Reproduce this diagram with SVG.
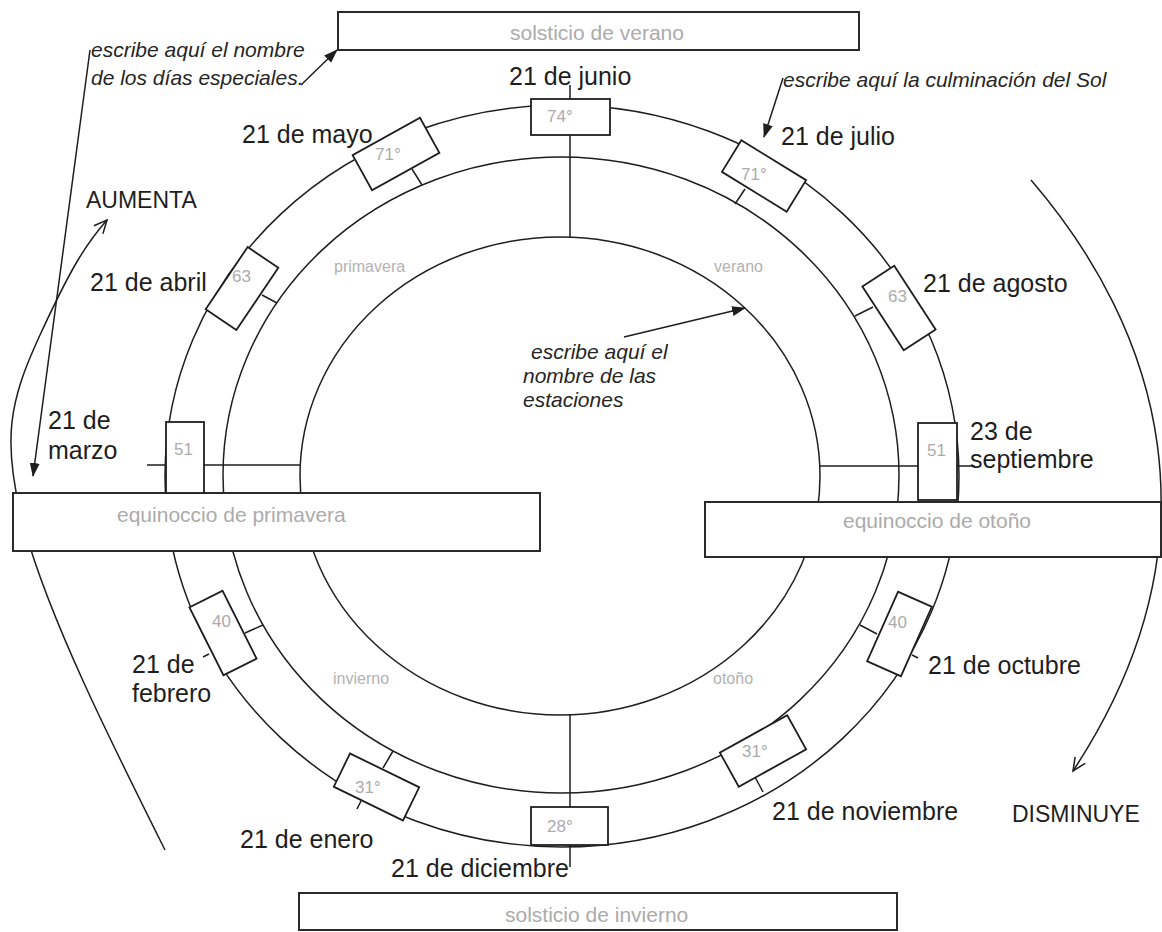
<svg xmlns="http://www.w3.org/2000/svg" width="1162" height="932" viewBox="0 0 1162 932">
<style>
text{font-family:"Liberation Sans",Arial,sans-serif}
.lbl{font-size:25px;fill:#1e1e1e}
.cap{font-size:23px;fill:#1e1e1e}
.note{font-size:21px;font-style:italic;fill:#262626}
.gray{font-size:21px;fill:#ababab}
.season{font-size:16px;fill:#b2b2b2}
.deg{font-size:17px;fill:#ababab}
.ring{fill:none;stroke:#1e1e1e;stroke-width:1.5}
.ln{fill:none;stroke:#1e1e1e;stroke-width:1.5}
.box{fill:#fff;stroke:#1e1e1e;stroke-width:1.8}
.band{fill:#fff;stroke:#2a2a2a;stroke-width:2}
</style>
<defs>
<marker id="fa" markerWidth="14" markerHeight="10" refX="13" refY="5" orient="auto" markerUnits="userSpaceOnUse"><path d="M0,0 L14,5 L0,10 z" fill="#1e1e1e"/></marker>
<marker id="oa" markerWidth="16" markerHeight="14" refX="14" refY="7" orient="auto" markerUnits="userSpaceOnUse"><path d="M1,1 L14,7 L1,13" fill="none" stroke="#1e1e1e" stroke-width="1.5"/></marker>
</defs>
<rect width="1162" height="932" fill="#fff"/>

<g id="rings">
<ellipse class="ring" cx="562" cy="476" rx="397" ry="371"/>
<ellipse class="ring" cx="561" cy="475" rx="338" ry="318"/>
<ellipse class="ring" cx="560" cy="476" rx="260" ry="239"/>
</g>

<g id="connectors">
<line class="ln" x1="570" y1="85" x2="570" y2="237"/>
<line class="ln" x1="570" y1="714" x2="570" y2="867"/>
<line class="ln" x1="147" y1="465" x2="300" y2="465"/>
<line class="ln" x1="820" y1="466" x2="975" y2="466"/>
<line class="ln" x1="412" y1="169" x2="422" y2="185"/>
<line class="ln" x1="745" y1="189" x2="735" y2="204"/>
<line class="ln" x1="262" y1="295" x2="277" y2="303"/>
<line class="ln" x1="855" y1="316" x2="873" y2="307"/>
<line class="ln" x1="245" y1="633" x2="263" y2="625"/>
<line class="ln" x1="203" y1="657" x2="209" y2="654"/>
<line class="ln" x1="860" y1="625" x2="877" y2="634"/>
<line class="ln" x1="912" y1="655" x2="918" y2="658"/>
<line class="ln" x1="383" y1="768" x2="393" y2="751"/>
<line class="ln" x1="361" y1="801" x2="357" y2="809"/>
<line class="ln" x1="755" y1="777" x2="763" y2="792"/>
<line class="ln" x1="301" y1="85" x2="337" y2="50" marker-end="url(#fa)"/>
<line class="ln" x1="90" y1="50" x2="33" y2="476" marker-end="url(#fa)"/>
<line class="ln" x1="783" y1="78" x2="764" y2="137" marker-end="url(#fa)"/>
<line class="ln" x1="624" y1="337" x2="745" y2="308" marker-end="url(#fa)"/>
<path class="ln" d="M165,850 C110,740 50,620 25,530 S10,400 40,335 S85,245 107,220" marker-end="url(#oa)"/>
<path class="ln" d="M1031,180 C1160,330 1225,540 1073,771" marker-end="url(#oa)"/>
</g>

<g id="n-solsticio-verano"><rect class="band" x="338" y="12" width="521" height="38"/><text class="gray" x="510" y="40">solsticio de verano</text></g>
<g id="n-equinoccio-primavera"><rect class="band" x="13" y="493" width="527" height="58"/><text class="gray" x="117" y="522">equinoccio de primavera</text></g>
<g id="n-equinoccio-otono"><rect class="band" x="705" y="502" width="456" height="55"/><text class="gray" x="843" y="528">equinoccio de otoño</text></g>
<g id="n-solsticio-invierno"><rect class="band" x="299" y="893" width="598" height="37"/><text class="gray" x="505" y="922">solsticio de invierno</text></g>

<g id="n-junio"><rect class="box" x="531" y="99" width="79" height="36"/><text class="deg" x="547" y="122">74°</text><text class="lbl" x="509" y="85">21 de junio</text></g>
<g id="n-mayo"><rect class="box" x="-38.5" y="-20" width="77" height="40" transform="translate(396,154) rotate(-29)"/><text class="deg" x="375" y="160">71°</text><text class="lbl" x="242" y="143">21 de mayo</text></g>
<g id="n-julio"><rect class="box" x="-38" y="-18.5" width="76" height="37" transform="translate(764,176) rotate(31.6)"/><text class="deg" x="741" y="180">71°</text><text class="lbl" x="781" y="145">21 de julio</text></g>
<g id="n-abril"><rect class="box" x="-18.5" y="-37.5" width="37" height="75" transform="translate(242,288.5) rotate(34)"/><text class="deg" x="232" y="282">63</text><text class="lbl" x="90" y="291">21 de abril</text></g>
<g id="n-agosto"><rect class="box" x="-19" y="-38" width="38" height="76" transform="translate(899,308) rotate(-33)"/><text class="deg" x="888" y="302">63</text><text class="lbl" x="923" y="292">21 de agosto</text></g>
<g id="n-marzo"><rect class="box" x="166" y="422" width="38" height="71"/><text class="deg" x="174" y="455">51</text><text class="lbl" x="48" y="429">21 de</text><text class="lbl" x="48" y="459">marzo</text></g>
<g id="n-septiembre"><rect class="box" x="918" y="423" width="39" height="77"/><text class="deg" x="927" y="456">51</text><text class="lbl" x="970" y="440">23 de</text><text class="lbl" x="970" y="468">septiembre</text></g>
<g id="n-febrero"><rect class="box" x="-18.5" y="-38" width="37" height="76" transform="translate(223,633) rotate(-26.6)"/><text class="deg" x="212" y="627">40</text><text class="lbl" x="132" y="673">21 de</text><text class="lbl" x="132" y="702">febrero</text></g>
<g id="n-octubre"><rect class="box" x="-18.5" y="-38" width="37" height="76" transform="translate(899.5,634) rotate(24)"/><text class="deg" x="888" y="628">40</text><text class="lbl" x="928" y="674">21 de octubre</text></g>
<g id="n-enero"><rect class="box" x="-38.5" y="-18.5" width="77" height="37" transform="translate(376.5,787) rotate(26)"/><text class="deg" x="355" y="793">31°</text><text class="lbl" x="240" y="848">21 de enero</text></g>
<g id="n-noviembre"><rect class="box" x="-38.5" y="-19.5" width="77" height="39" transform="translate(763,751) rotate(-29)"/><text class="deg" x="742" y="757">31°</text><text class="lbl" x="772" y="820">21 de noviembre</text></g>
<g id="n-diciembre"><rect class="box" x="531" y="807" width="77" height="38"/><text class="deg" x="547" y="832">28°</text><text class="lbl" x="391" y="877">21 de diciembre</text></g>

<g id="n-estaciones">
<text class="season" x="334" y="272">primavera</text>
<text class="season" x="714" y="272">verano</text>
<text class="season" x="333" y="684">invierno</text>
<text class="season" x="713" y="684">otoño</text>
</g>

<g id="n-notas">
<text class="note" x="91" y="57">escribe aquí el nombre</text>
<text class="note" x="91" y="85">de los días especiales.</text>
<text class="note" x="783" y="87">escribe aquí la culminación del Sol</text>
<text class="note" x="531" y="359">escribe aquí el</text>
<text class="note" x="523" y="383">nombre de las</text>
<text class="note" x="523" y="407">estaciones</text>
</g>

<g id="n-tendencias">
<text class="cap" x="86" y="208">AUMENTA</text>
<text class="cap" x="1012" y="822">DISMINUYE</text>
</g>
</svg>
